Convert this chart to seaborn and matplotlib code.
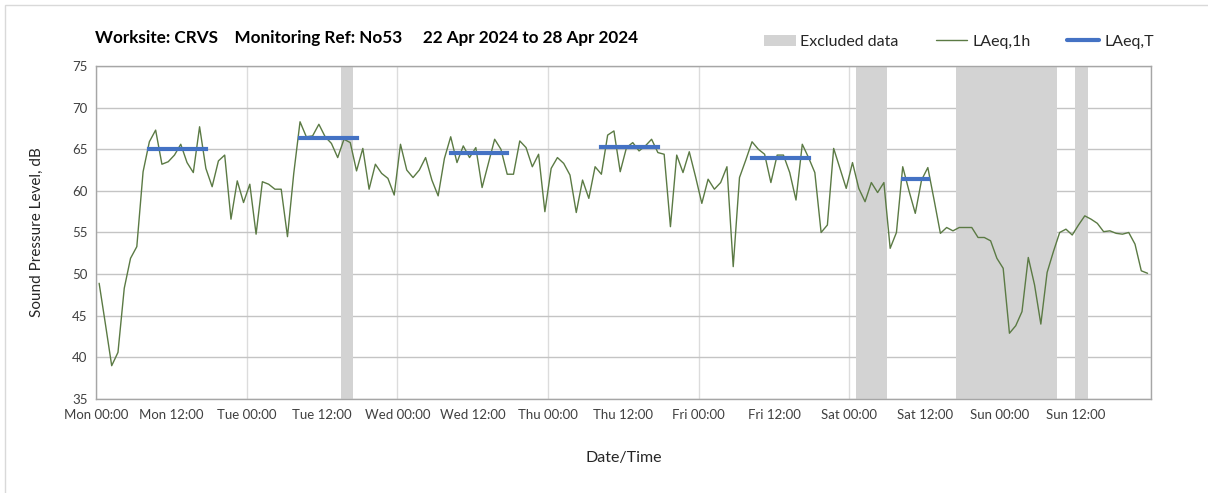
import numpy as np
import pandas as pd
import matplotlib
matplotlib.use("Agg")
import matplotlib.pyplot as plt
import seaborn as sns
from matplotlib.patches import Patch, Rectangle
from matplotlib.lines import Line2D
from matplotlib.ticker import FixedLocator

# datos: LAeq,1h horario desde Mon 00:00 (168 horas)
laeq_1h = [
    48.9, 44.0, 39.0, 40.6, 48.3, 51.9, 53.3, 62.3, 65.9, 67.3, 63.2, 63.5,
    64.3, 65.6, 63.4, 62.2, 67.7, 62.7, 60.5, 63.6, 64.3, 56.6, 61.2, 58.6,
    60.8, 54.8, 61.1, 60.8, 60.2, 60.2, 54.5, 62.1, 68.3, 66.5, 66.6, 68.0,
    66.5, 65.7, 64.0, 66.2, 65.8, 62.4, 65.1, 60.2, 63.2, 62.1, 61.5, 59.5,
    65.6, 62.5, 61.6, 62.5, 64.0, 61.3, 59.4, 63.9, 66.5, 63.4, 65.4, 64.0,
    65.2, 60.4, 63.3, 66.2, 65.0, 62.0, 62.0, 66.0, 65.2, 62.9, 64.4, 57.5,
    62.7, 64.0, 63.3, 61.9, 57.4, 61.3, 59.1, 62.9, 62.0, 66.7, 67.2, 62.3,
    65.2, 65.8, 64.8, 65.4, 66.2, 64.6, 64.4, 55.7, 64.3, 62.2, 64.7, 61.7,
    58.5, 61.4, 60.2, 61.0, 62.9, 50.9, 61.6, 63.7, 65.9, 65.0, 64.4, 61.0,
    64.3, 64.3, 62.2, 58.9, 65.6, 64.0, 62.2, 55.0, 55.9, 65.1, 62.7, 60.3,
    63.4, 60.3, 58.7, 61.0, 59.8, 61.0, 53.1, 55.0, 62.9, 60.0, 57.3, 61.3,
    62.8, 58.9, 54.9, 55.6, 55.2, 55.6, 55.6, 55.6, 54.4, 54.4, 54.0, 51.9,
    50.7, 42.9, 43.8, 45.5, 52.0, 48.7, 44.0, 50.2, 52.7, 55.0, 55.4, 54.7,
    55.9, 57.0, 56.6, 56.1, 55.1, 55.2, 54.9, 54.8, 55.0, 53.6, 50.4, 50.1,
]

dias = ["Mon", "Tue", "Wed", "Thu", "Fri", "Sat", "Sun"]

# LAeq,T por periodo (hora de inicio / fin dentro del dia)
laeq_t = [65.0, 66.4, 64.5, 65.3, 64.0, 61.4]
periodo_inicio = [8, 8, 8, 8, 8, 8]
periodo_fin = [18, 18, 18, 18, 18, 13]

# datos excluidos (horas desde Mon 00:00)
excl_inicio = [39, 121, 137, 156]
excl_fin = [41, 126, 153, 158]

df = pd.DataFrame({"hora": np.arange(len(laeq_1h)) + 0.5, "LAeq,1h": laeq_1h})

sns.set_theme(style="white")
plt.rcParams["font.family"] = ["Lato", "DejaVu Sans"]

fig = plt.figure(figsize=(12.08, 4.93), dpi=100)
ax = fig.add_axes([96 / 1208, 1 - 399 / 493, (1150.7 - 96) / 1208, (399 - 66) / 493])

for a, b in zip(excl_inicio, excl_fin):
    ax.axvspan(a, b, color="#d3d3d3", lw=0, zorder=1)

sns.lineplot(data=df, x="hora", y="LAeq,1h", ax=ax, color="#5b7a44", lw=1.0, zorder=3)

for d, (v, a, b) in enumerate(zip(laeq_t, periodo_inicio, periodo_fin)):
    ax.plot([d * 24 + a + 0.5, d * 24 + b - 0.5], [v, v], color="#4472c4", lw=3,
            solid_capstyle="projecting", zorder=4)

ax.set_xlim(0, 168)
ax.set_ylim(35, 75)
ax.set_yticks(range(35, 76, 5))
ax.xaxis.set_major_locator(FixedLocator(list(range(0, 169, 24))))
ax.xaxis.set_minor_locator(FixedLocator(list(range(12, 168, 24))))
ax.set_xticklabels([f"{d} 00:00" for d in dias] + [""])
ax.set_xticklabels([f"{d} 12:00" for d in dias], minor=True)

ax.grid(axis="y", color="#c4c4c4", lw=1.0, zorder=0)
ax.grid(axis="x", which="major", color="#dcdcdc", lw=1.0, zorder=0)
ax.set_axisbelow(True)

for s in ax.spines.values():
    s.set_color("#a6a6a6")
    s.set_linewidth(1.0)

ax.tick_params(axis="both", which="both", direction="out", length=4, width=1,
               color="#a6a6a6", labelsize=9.5, labelcolor="#404040", pad=2)
ax.tick_params(axis="x", which="both", pad=3)

ax.set_xlabel("Date/Time", fontsize=11.5, color="#262626", labelpad=22)
ax.set_ylabel("Sound Pressure Level, dB", fontsize=11, color="#262626", labelpad=20)

fig.text(95 / 1208, 1 - 38 / 493,
         "Worksite: CRVS    Monitoring Ref: No53     22 Apr 2024 to 28 Apr 2024",
         fontsize=12.3, fontweight="bold", color="#000000", va="center")

handles = [
    Patch(facecolor="#d3d3d3", edgecolor="none", label="Excluded data"),
    Line2D([], [], color="#5b7a44", lw=1.0, label="LAeq,1h"),
    Line2D([], [], color="#4472c4", lw=3, label="LAeq,T"),
]
fig.legend(handles=handles, loc="center right", bbox_to_anchor=(1168 / 1208, 1 - 42 / 493),
           ncol=3, frameon=False, fontsize=11.5, handlelength=2.0, handleheight=0.7,
           columnspacing=2.3, handletextpad=0.3, labelcolor="#262626")

fig.patches.append(Rectangle((5 / 1208, -0.1), 1.2, 1.1 - 5 / 493, transform=fig.transFigure,
                             fill=False, edgecolor="#d9d9d9", lw=1.0))

fig.savefig("out.png", dpi=100)
